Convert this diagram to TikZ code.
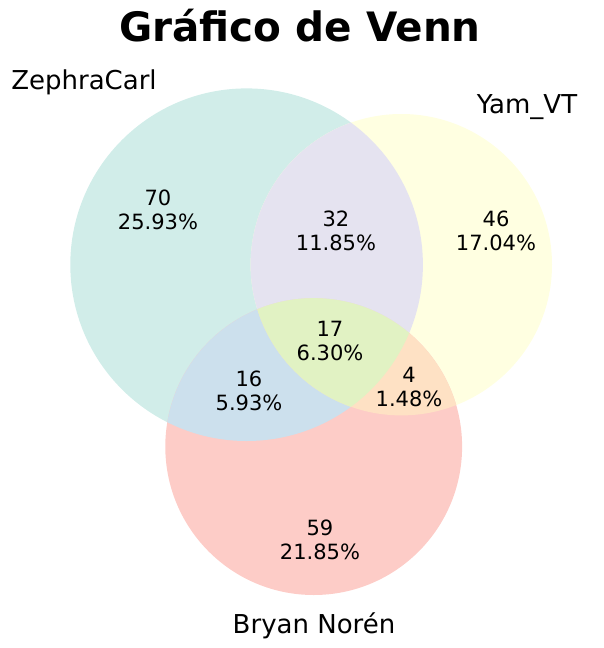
\documentclass[tikz,border=0pt]{standalone}
\usepackage{fontspec}
\setmainfont{DejaVu Sans}
\definecolor{cZ}{HTML}{D1EDE9}
\definecolor{cY}{HTML}{FFFFE1}
\definecolor{cB}{HTML}{FDCCC7}
\definecolor{cZY}{HTML}{E5E3F0}
\definecolor{cZB}{HTML}{CCE0ED}
\definecolor{cYB}{HTML}{FEE1C4}
\definecolor{cZYB}{HTML}{E1F2C3}
\tikzset{
  num/.style={align=center, font=\fontsize{21}{24}\selectfont, inner sep=0pt},
  setlabel/.style={font=\fontsize{26}{30}\selectfont, inner sep=0pt},
  titlestyle/.style={font=\fontsize{40.5}{46}\selectfont\bfseries, inner sep=0pt}
}
\begin{document}
\begin{tikzpicture}[x=1pt,y=-1pt]
\useasboundingbox (0,0) rectangle (603,648);
\def\Zc{(246.6,264.7) circle[radius=176.3]}
\def\Yc{(401.3,264.7) circle[radius=150.7]}
\def\Bc{(313.7,446.6) circle[radius=148.4]}
% base circles
\fill[cZ] \Zc;
\fill[cY] \Yc;
\fill[cB] \Bc;
% pairwise
\begin{scope}\clip \Zc; \fill[cZY] \Yc; \end{scope}
\begin{scope}\clip \Zc; \fill[cZB] \Bc; \end{scope}
\begin{scope}\clip \Yc; \fill[cYB] \Bc; \end{scope}
\begin{scope}\clip \Zc; \clip \Yc; \fill[cZYB] \Bc; \end{scope}
% title and labels
\node[titlestyle] (title) at (300,26) {Gráfico de Venn};
\node[setlabel] (lz) at (84,82) {ZephraCarl};
\node[setlabel] (ly) at (527,107) {Yam\_VT};
\node[setlabel] (lb) at (314,626) {Bryan Norén};
% counts
\node[num] (n70) at (158,209.5) {70\\25.93\%};
\node[num] (n32) at (336,231) {32\\11.85\%};
\node[num] (n46) at (496,230.5) {46\\17.04\%};
\node[num] (n17) at (330,340.5) {17\\6.30\%};
\node[num] (n16) at (249,390.5) {16\\5.93\%};
\node[num] (n4) at (409,387) {4\\1.48\%};
\node[num] (n59) at (320,540) {59\\21.85\%};
\end{tikzpicture}
\end{document}
